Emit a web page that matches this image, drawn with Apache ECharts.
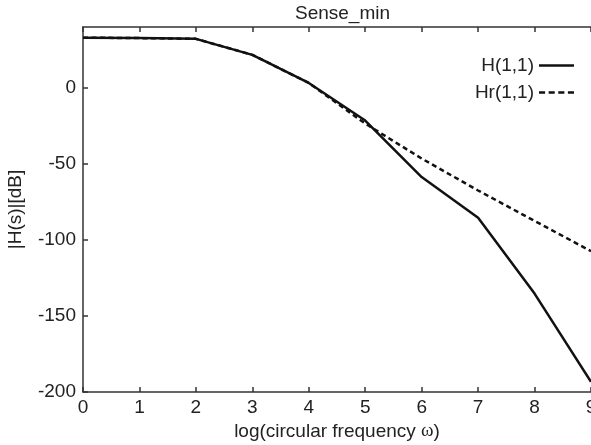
<!DOCTYPE html>
<html>
<head>
<meta charset="utf-8">
<script src="https://cdn.jsdelivr.net/npm/echarts@6/dist/echarts.min.js"></script>
<style>html,body{margin:0;padding:0;background:#fff;}#c{width:591px;height:445px;}</style>
</head>
<body>
<div id="c"></div>
<script>
const xValues = [0, 1, 2, 3, 4, 5, 6, 7, 8, 9];
const hValues = [33, 32.7, 32.2, 21.7, 3.2, -21.5, -58.7, -85.4, -135.3, -193.3];
const hrValues = [33, 32.7, 32.2, 21.7, 3.2, -23.5, -46.5, -67.5, -87.5, -107.4];
const seriesNames = ['H(1,1)', 'Hr(1,1)'];
const titleText = 'Sense_min';
const xName = 'log(circular frequency {w|ω})';
const yName = '|H(s)|[dB]';

const font = 'Liberation Sans, Arial, sans-serif';
const chart = echarts.init(document.getElementById('c'), null, {renderer: 'canvas'});
const axisLineStyle = {color: '#333', width: 1.5};
chart.setOption({
  animation: false,
  backgroundColor: '#fff',
  title: {
    text: titleText, left: 290, top: -1,
    textStyle: {fontFamily: font, fontSize: 19, fontWeight: 'normal', color: '#222'}
  },
  legend: {
    orient: 'vertical', right: 12, top: 51, align: 'right',
    itemWidth: 35, itemHeight: 2.5, itemGap: 8, symbolKeepAspect: false,
    textStyle: {fontFamily: font, fontSize: 19, color: '#222'},
    data: [
      {name: seriesNames[0], icon: 'path://M0,0h34v1h-34z', itemStyle: {color: '#111'}},
      {name: seriesNames[1], icon: 'path://M0,0h6v1h-6z M9.5,0h6v1h-6z M19,0h6v1h-6z M28.5,0h6v1h-6z', itemStyle: {color: '#111'}}
    ]
  },
  grid: {left: 83, top: 27, right: 0, bottom: 53, containLabel: false, outerBoundsMode: 'none'},
  xAxis: [{
    type: 'value', min: 0, max: 9, interval: 1, position: 'bottom',
    name: xName, nameLocation: 'middle', nameGap: 26,
    nameTextStyle: {fontFamily: font, fontSize: 19, color: '#222',
      rich: {w: {fontFamily: 'Liberation Serif, Times New Roman, serif', fontSize: 19, color: '#222'}}},
    axisLine: {show: true, onZero: false, lineStyle: axisLineStyle},
    axisTick: {show: true, inside: true, length: 5, lineStyle: axisLineStyle},
    axisLabel: {fontFamily: font, fontSize: 19, color: '#222', margin: 6},
    splitLine: {show: false}
  }, {
    type: 'value', min: 0, max: 9, interval: 1, position: 'top',
    axisLine: {show: true, onZero: false, lineStyle: axisLineStyle},
    axisTick: {show: true, inside: true, length: 5, lineStyle: axisLineStyle},
    axisLabel: {show: false},
    splitLine: {show: false}
  }],
  yAxis: {
    type: 'value', min: -200, max: 40, interval: 50,
    name: yName, nameLocation: 'middle', nameGap: 58, nameRotate: 90,
    nameTextStyle: {fontFamily: font, fontSize: 19, color: '#222'},
    axisLine: {show: true, onZero: false, lineStyle: axisLineStyle},
    axisTick: {show: true, inside: true, length: 5, lineStyle: axisLineStyle},
    axisLabel: {fontFamily: font, fontSize: 19, color: '#222', margin: 7, showMaxLabel: false},
    splitLine: {show: false}
  },
  series: [{
    name: seriesNames[0], type: 'line', xAxisIndex: 0,
    data: xValues.map((x, i) => [x, hValues[i]]),
    symbol: 'none', clip: false,
    lineStyle: {color: '#111', width: 2.5},
    itemStyle: {color: '#111'}
  }, {
    name: seriesNames[1], type: 'line', xAxisIndex: 0,
    data: xValues.map((x, i) => [x, hrValues[i]]),
    symbol: 'none', clip: false, z: 1,
    lineStyle: {color: '#111', width: 2.5, type: [5, 3.5]},
    itemStyle: {color: '#111'}
  }]
});
</script>
</body>
</html>
